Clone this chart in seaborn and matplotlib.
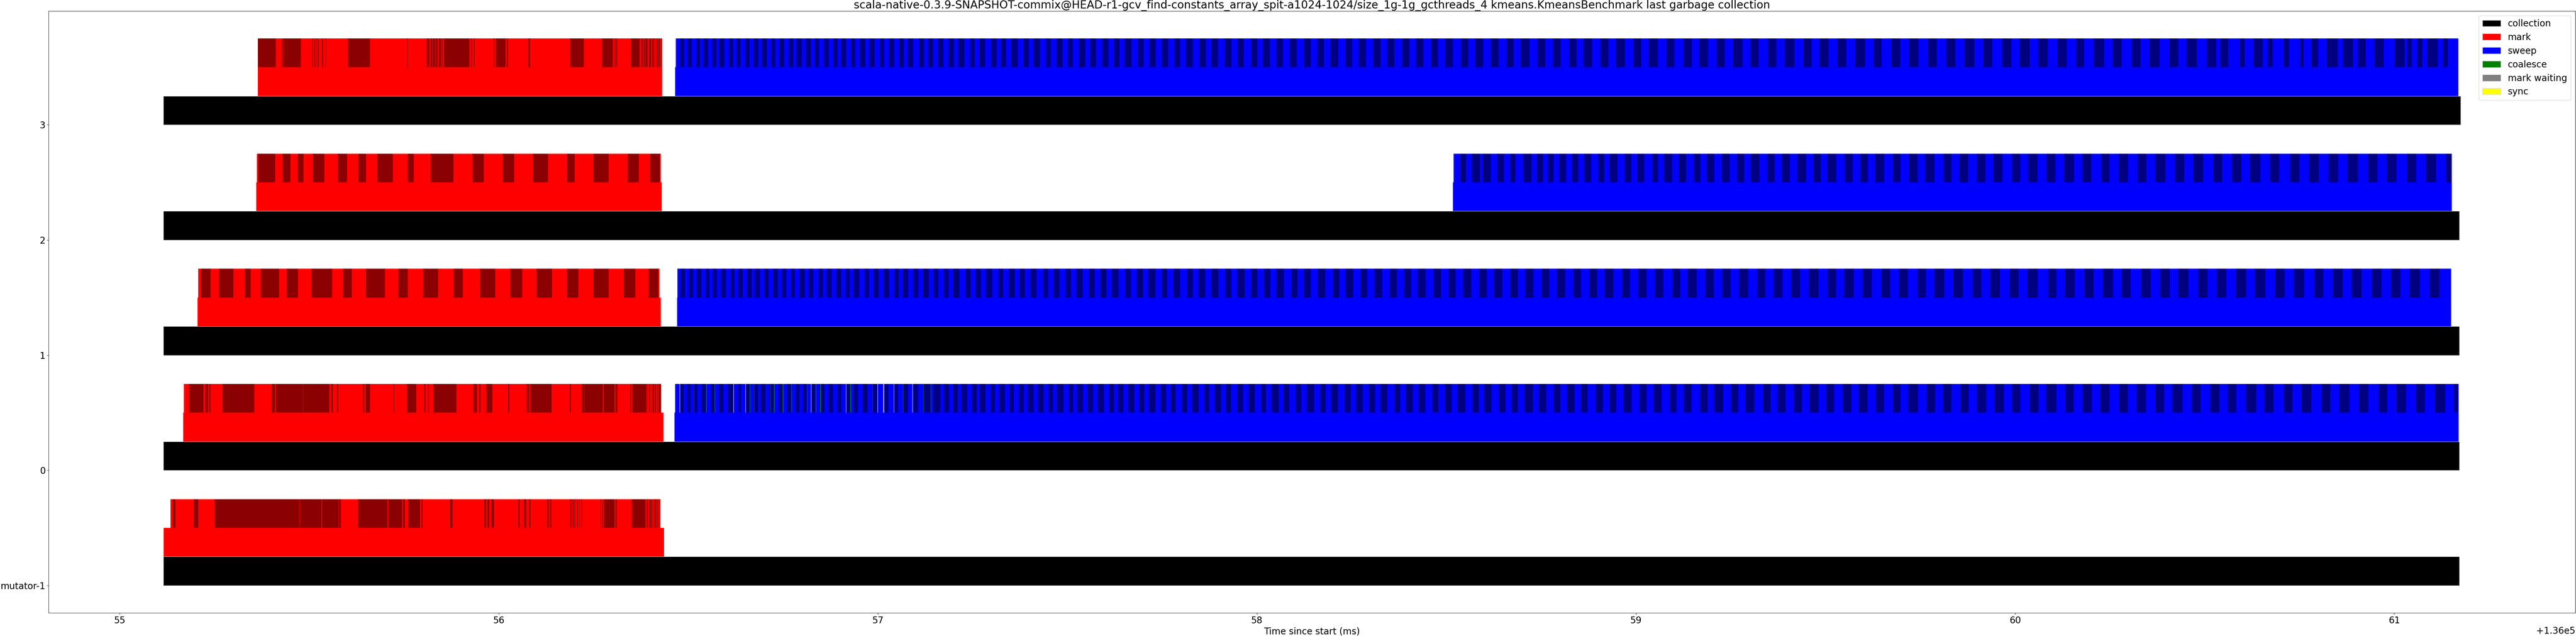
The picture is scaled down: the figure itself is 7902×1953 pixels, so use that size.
import matplotlib
matplotlib.use("Agg")
import matplotlib.pyplot as plt
import seaborn as sns
import pandas as pd
import numpy as np
from matplotlib.patches import Patch

OFFSET = 136000.0

# ---------------- data (ms, relative to OFFSET) ----------------
row_labels = ["mutator-1", "0", "1", "2", "3"]
row_pos = [-1, 0, 1, 2, 3]

collection_start = [55.115, 55.115, 55.115, 55.115, 55.115]
collection_end = [61.172, 61.172, 61.172, 61.172, 61.175]

mark_rows = [-1, 0, 1, 2, 3]
mark_start = [55.116, 55.167, 55.205, 55.360, 55.364]
mark_end = [56.4355, 56.434, 56.427, 56.430, 56.431]

# extent of the per-batch strip (top layer) during mark
mark_batch_start = [55.134, 55.169, 55.207, 55.362, 55.364]
mark_batch_end = [56.4265, 56.428, 56.424, 56.427, 56.431]

sweep_rows = [0, 1, 2, 3]
sweep_start = [56.4635, 56.470, 58.517, 56.465]
sweep_end = [61.170, 61.150, 61.152, 61.169]

# dark (alternate) mark batches per row
mark_dark_m1 = [(55.140, 55.147), (55.196, 55.207), (55.250, 55.474), (55.475, 55.532),
                (55.534, 55.577), (55.578, 55.584), (55.629, 55.706), (55.708, 55.744),
                (55.747, 55.752), (55.761, 55.792), (55.796, 55.799), (55.872, 55.878),
                (55.962, 55.966), (55.970, 55.975), (55.980, 55.987), (56.051, 56.055),
                (56.066, 56.072), (56.080, 56.083), (56.128, 56.131), (56.135, 56.138),
                (56.188, 56.190), (56.192, 56.194), (56.197, 56.199), (56.202, 56.204),
                (56.207, 56.209), (56.212, 56.214), (56.218, 56.220), (56.268, 56.270),
                (56.273, 56.275), (56.278, 56.305), (56.308, 56.311), (56.351, 56.387),
                (56.390, 56.393), (56.395, 56.397), (56.399, 56.401), (56.403, 56.405),
                (56.408, 56.410), (56.412, 56.414), (56.417, 56.419), (56.421, 56.423)]
mark_dark_0 = [(55.183, 55.221), (55.226, 55.233), (55.236, 55.240), (55.271, 55.355),
               (55.401, 55.409), (55.412, 55.483), (55.484, 55.553), (55.558, 55.562),
               (55.573, 55.576), (55.641, 55.645), (55.649, 55.660), (55.722, 55.724),
               (55.757, 55.782), (55.803, 55.806), (55.813, 55.816), (55.827, 55.888),
               (55.933, 55.942), (55.948, 55.952), (55.966, 55.983), (56.025, 56.027),
               (56.073, 56.076), (56.078, 56.081), (56.083, 56.139), (56.187, 56.190),
               (56.219, 56.225), (56.226, 56.274), (56.277, 56.305), (56.308, 56.313),
               (56.347, 56.349), (56.352, 56.389), (56.391, 56.393), (56.396, 56.398),
               (56.401, 56.403), (56.406, 56.409), (56.412, 56.414), (56.418, 56.420),
               (56.423, 56.427)]
mark_dark_1 = [(55.215, 55.240), (55.262, 55.300), (55.330, 55.345), (55.372, 55.420),
               (55.441, 55.470), (55.505, 55.560), (55.590, 55.612), (55.650, 55.700),
               (55.735, 55.760), (55.800, 55.840), (55.880, 55.905), (55.950, 55.990),
               (56.030, 56.062), (56.100, 56.140), (56.180, 56.210), (56.250, 56.290),
               (56.330, 56.360), (56.395, 56.420)]
mark_dark_2 = [(55.365, 55.410), (55.430, 55.450), (55.470, 55.485), (55.510, 55.540),
               (55.575, 55.600), (55.630, 55.650), (55.680, 55.720), (55.760, 55.775),
               (55.820, 55.880), (55.930, 55.960), (56.010, 56.040), (56.090, 56.130),
               (56.180, 56.200), (56.250, 56.290), (56.340, 56.370), (56.400, 56.425)]
mark_dark_3 = [(55.364, 55.412), (55.428, 55.430), (55.431, 55.478), (55.508, 55.510),
               (55.514, 55.516), (55.519, 55.521), (55.523, 55.525), (55.534, 55.536),
               (55.542, 55.544), (55.602, 55.660), (55.758, 55.760), (55.810, 55.817),
               (55.820, 55.824), (55.826, 55.831), (55.833, 55.838), (55.842, 55.847),
               (55.849, 55.852), (55.855, 55.859), (55.859, 55.922), (55.927, 55.929),
               (55.934, 55.936), (55.986, 55.989), (55.992, 56.018), (56.021, 56.024),
               (56.078, 56.082), (56.188, 56.224), (56.272, 56.301), (56.305, 56.308),
               (56.310, 56.312), (56.349, 56.371), (56.375, 56.377), (56.379, 56.381),
               (56.383, 56.385), (56.387, 56.392), (56.396, 56.398), (56.399, 56.401),
               (56.404, 56.406), (56.407, 56.409), (56.411, 56.413), (56.415, 56.417),
               (56.419, 56.421), (56.423, 56.425), (56.427, 56.430)]

# sweep batches: directly read dark batches (start, end)
sweep_dark_0_read = [(56.4775, 56.4875), (56.4965, 56.5055), (56.5135, 56.5235), (56.5355, 56.5465),
                     (56.5595, 56.5685), (56.5815, 56.5925), (56.6035, 56.6175), (56.6315, 56.6385),
                     (56.6505, 56.6615), (56.6725, 56.6835), (56.6915, 56.7035), (56.7145, 56.7255),
                     (56.7385, 56.7485), (56.7605, 56.7705), (56.7845, 56.7925), (56.8025, 56.8125),
                     (56.8235, 56.8355), (56.8475, 56.8585), (56.8705, 56.8815), (56.8945, 56.9035),
                     (56.9155, 56.9265), (56.9365, 56.9475), (56.9595, 56.9725), (56.9845, 56.9985),
                     (57.0145, 57.0275), (57.0415, 57.0535), (57.0665, 57.0795), (57.0915, 57.1055),
                     (57.1195, 57.1385), (57.1465, 57.1645)]
sweep_dark_2_read = [(58.5366, 58.5512), (58.567, 58.588), (58.596, 58.617), (58.634, 58.651),
                     (58.668, 58.681), (58.703, 58.724), (58.739, 58.754), (58.767, 58.783)]
sweep_dark_3_read = [(60.541, 60.562), (60.592, 60.605), (60.629, 60.653), (60.667, 60.679),
                     (60.708, 60.723), (60.751, 60.761), (60.782, 60.799), (60.822, 60.851),
                     (60.864, 60.891), (60.903, 60.925), (60.948, 60.972), (61.001, 61.027),
                     (61.035, 61.046), (61.061, 61.074), (61.087, 61.115), (61.129, 61.142)]

# sweep batches elsewhere: estimated durations in microseconds, alternating (light, dark)
sweep_0_rest_us = [9, 14, 11, 12, 10, 15, 12, 13, 9, 14, 13, 12, 11, 16, 12, 11, 14, 13, 10, 15,
                   12, 14, 13, 12, 11, 17, 14, 12, 10, 15, 13, 14, 12, 16, 15, 12, 11, 14, 13, 15,
                   14, 13, 12, 17, 15, 14, 13, 12, 16, 15, 12, 18, 14, 13, 15, 16, 13, 14, 17, 15,
                   14, 17, 16, 13, 15, 18, 13, 16, 17, 14, 15, 19, 16, 15, 14, 18, 18, 15, 15, 17,
                   17, 16, 14, 19, 18, 15, 16, 18, 15, 17, 19, 16, 17, 18, 16, 20, 18, 17, 15, 19,
                   19, 18, 17, 16, 18, 21, 16, 19, 20, 17, 18, 20, 17, 18, 21, 19, 18, 17, 19, 22,
                   20, 19, 18, 22, 21, 18, 19, 21, 22, 20, 18, 23, 21, 19, 20, 22, 23, 20, 19, 21,
                   22, 21, 20, 24, 21, 20, 23, 22, 19, 24, 22, 21, 24, 20, 21, 25, 23, 22, 20, 23,
                   24, 22, 21, 25, 23, 24, 22, 21, 25, 23, 21, 26, 24, 22, 23, 25, 22, 24, 26, 23,
                   23, 25, 25, 22, 22, 27, 24, 23, 26, 24, 23, 22, 25, 27, 22, 24, 27, 23, 24, 26,
                   26, 24, 23, 27, 25, 25, 28, 22, 24, 26, 27, 23, 25, 28, 23, 24]
sweep_1_us = [8, 11, 11, 10, 10, 12, 12, 9, 9, 11, 11, 13, 13, 10, 10, 11, 12, 12, 9, 13,
              12, 11, 11, 13, 10, 12, 13, 10, 12, 14, 11, 11, 14, 12, 10, 13, 13, 12, 12, 10,
              11, 15, 14, 12, 12, 13, 13, 14, 15, 11, 11, 14, 14, 13, 12, 15, 13, 12, 15, 13,
              12, 16, 16, 13, 14, 14, 13, 17, 15, 13, 16, 15, 13, 14, 14, 17, 17, 13, 15, 15,
              16, 14, 14, 17, 17, 15, 15, 16, 14, 18, 18, 14, 16, 16, 15, 18, 17, 15, 16, 17,
              18, 16, 15, 17, 17, 18, 19, 15, 16, 19, 17, 17, 18, 16, 16, 20, 19, 17, 17, 18,
              19, 19, 20, 17, 17, 20, 19, 18, 18, 21, 21, 18, 19, 19, 17, 21, 20, 20, 21, 18,
              20, 21, 22, 19, 19, 22, 21, 20, 20, 21, 23, 19, 19, 23, 22, 20, 21, 21, 20, 23,
              23, 21, 21, 23, 22, 22, 24, 20, 20, 24, 23, 22, 22, 23, 21, 25, 24, 21, 22, 23,
              24, 23, 23, 25, 25, 21, 22, 25, 24, 24, 26, 22, 23, 24, 25, 23, 22, 26, 24, 25,
              26, 23, 23, 26, 25, 24, 24, 27, 27, 22, 23, 25, 26, 24, 25, 26, 24, 23, 27, 25,
              25, 26, 22, 27, 27, 24, 24, 25, 26, 26, 23, 28,
              26, 25, 24, 27, 28, 23, 25, 26, 23, 27, 27, 25, 26, 24, 24, 28, 25, 26, 28, 24]
sweep_2_rest_us = [14, 18, 17, 15, 16, 19, 18, 16, 15, 20, 19, 17, 17, 18, 20, 16, 16, 21, 18, 19,
                   21, 17, 17, 20, 19, 21, 20, 18, 18, 22, 22, 19, 19, 20, 21, 22, 20, 19, 18, 23,
                   22, 21, 21, 20, 19, 24, 23, 20, 22, 22, 20, 25, 24, 21, 21, 23, 23, 22, 22, 24,
                   25, 21, 21, 25, 24, 23, 23, 26, 22, 24, 26, 22, 24, 25, 25, 23, 23, 27, 26, 24,
                   24, 26, 27, 23, 25, 25, 23, 28, 26, 24, 28, 25, 24, 27,
                   26, 25, 25, 27, 28, 24, 24, 26, 27, 25, 25, 28, 26, 24]
sweep_3_us = [12, 10, 9, 11, 12, 9, 10, 12, 11, 10, 9, 13, 12, 11, 10, 9, 13, 11, 11, 12,
              10, 13, 12, 10, 11, 12, 13, 11, 9, 14, 12, 12, 11, 10, 14, 12, 12, 11, 10, 13,
              13, 12, 11, 14, 12, 13, 14, 11, 12, 15, 13, 12, 11, 14, 15, 13, 12, 12, 13, 15,
              14, 13, 12, 16, 15, 12, 13, 15, 16, 14, 12, 13, 14, 17, 15, 14, 13, 16, 16, 13,
              15, 16, 14, 13, 16, 17, 13, 15, 17, 16, 15, 14, 14, 18, 17, 15, 16, 16, 15, 17,
              17, 15, 16, 18, 18, 16, 15, 17, 17, 19, 16, 16, 19, 17, 15, 18, 18, 17, 17, 19,
              19, 18, 17, 17, 18, 20, 20, 17, 17, 19, 19, 20, 18, 18, 21, 19, 17, 20, 20, 18,
              19, 21, 21, 19, 18, 22, 20, 20, 22, 18, 19, 23, 21, 20, 20, 21, 23, 19, 19, 22,
              22, 21, 20, 23, 23, 20, 21, 24, 22, 21, 24, 22, 20, 23, 23, 21, 22, 25, 21, 22,
              24, 22, 22, 25, 25, 21, 21, 24, 24, 23, 23, 26, 22, 22, 25, 24, 23, 25, 26, 22,
              25, 24, 23, 27, 24, 23, 26, 25, 22, 26,
              23, 25, 26, 24, 24, 22, 25, 27, 23, 24, 27, 23, 24, 26, 25, 24, 22, 27, 26, 25, 24, 23]

# thin idle gaps (white) in the sweep strip of row 0
sweep_gaps_0 = [56.477, 56.619, 56.651, 56.824, 56.916, 56.999, 57.015, 57.042, 57.091]

# coalesce events (very short) during sweep, row 0
coalesce_0 = [56.514, 56.547, 56.569, 56.662, 56.673, 56.716, 56.726, 56.749, 56.771,
              56.813, 56.836, 56.848, 56.927, 56.985, 57.066, 57.120, 57.139]

legend_labels = ["collection", "mark", "sweep", "coalesce", "mark waiting", "sync"]
legend_colors = ["black", "red", "blue", "green", "grey", "yellow"]

title = ("scala-native-0.3.9-SNAPSHOT-commix@HEAD-r1-gcv_find-constants_array_spit-a1024-1024/"
         "size_1g-1g_gcthreads_4 kmeans.KmeansBenchmark last garbage collection")


def dark_from_durations(t0, us_list, t_end):
    """Turn alternating (light, dark) batch durations in microseconds into dark segments."""
    segs = []
    t = t0
    for i in range(0, len(us_list) - 1, 2):
        t += us_list[i] / 1000.0
        s = t
        t += us_list[i + 1] / 1000.0
        if s >= t_end:
            break
        segs.append((s, min(t, t_end)))
    return segs


sweep_dark_0 = sweep_dark_0_read + dark_from_durations(57.1645, sweep_0_rest_us, 61.168)
sweep_dark_1 = dark_from_durations(56.472, sweep_1_us, 61.148)
sweep_dark_2 = sweep_dark_2_read + dark_from_durations(58.783, sweep_2_rest_us, 61.150)
sweep_dark_3 = dark_from_durations(56.467, sweep_3_us, 60.530) + sweep_dark_3_read

# ---------------- style ----------------
sns.set_theme(style="ticks")
plt.rcParams.update({
    "font.family": ["DejaVu Sans"],
    "font.size": 20,
    "axes.edgecolor": "black",
    "axes.linewidth": 0.8,
    "xtick.color": "black",
    "ytick.color": "black",
    "xtick.major.size": 3.5,
    "ytick.major.size": 3.5,
    "xtick.major.width": 0.8,
    "ytick.major.width": 0.8,
    "xtick.labelsize": 20,
    "ytick.labelsize": 20,
    "axes.labelsize": 20,
    "axes.titlesize": 24,
    "legend.fontsize": 20,
    "text.color": "black",
    "axes.labelcolor": "black",
})

fig, ax = plt.subplots(figsize=(79.02, 19.53), dpi=100)
fig.subplots_adjust(left=0.0189, right=0.9997, top=0.9826, bottom=0.0364)

BAR_H = 0.25

# collection bars (bottom layer)
coll_df = pd.DataFrame({
    "pos": np.array(row_pos, dtype=float) + BAR_H / 2,
    "dur": np.array(collection_end) - np.array(collection_start),
    "left": np.array(collection_start) + OFFSET,
}).sort_values("pos")
sns.barplot(data=coll_df, x="dur", y="pos", orient="y", native_scale=True,
            width=BAR_H, left=coll_df["left"].to_numpy(), color="black",
            saturation=1, errorbar=None, edgecolor="lightgrey", linewidth=0.8, ax=ax)

# mark bars (middle layer)
mark_df = pd.DataFrame({
    "pos": np.array(mark_rows, dtype=float) + 1.5 * BAR_H,
    "dur": np.array(mark_end) - np.array(mark_start),
    "left": np.array(mark_start) + OFFSET,
}).sort_values("pos")
sns.barplot(data=mark_df, x="dur", y="pos", orient="y", native_scale=True,
            width=BAR_H, left=mark_df["left"].to_numpy(), color="red",
            saturation=1, errorbar=None, linewidth=0, ax=ax)

# sweep bars (middle layer)
sweep_df = pd.DataFrame({
    "pos": np.array(sweep_rows, dtype=float) + 1.5 * BAR_H,
    "dur": np.array(sweep_end) - np.array(sweep_start),
    "left": np.array(sweep_start) + OFFSET,
}).sort_values("pos")
sns.barplot(data=sweep_df, x="dur", y="pos", orient="y", native_scale=True,
            width=BAR_H, left=sweep_df["left"].to_numpy(), color="blue",
            saturation=1, errorbar=None, linewidth=0, ax=ax)


# per-batch strips (top layer)
def strip(row, segs, color):
    if len(segs) == 0:
        return
    ax.broken_barh([(s + OFFSET, e - s) for s, e in segs], (row + 2 * BAR_H, BAR_H),
                   facecolors=color, linewidth=0)


for r, s, e in zip(mark_rows, mark_batch_start, mark_batch_end):
    strip(r, [(s, e)], "red")
for r, s, e in zip(sweep_rows, sweep_start, sweep_end):
    strip(r, [(s + 0.0015, e)], "blue")

for r, segs in zip(mark_rows, [mark_dark_m1, mark_dark_0, mark_dark_1, mark_dark_2, mark_dark_3]):
    strip(r, segs, "darkred")
for r, segs in zip(sweep_rows, [sweep_dark_0, sweep_dark_1, sweep_dark_2, sweep_dark_3]):
    strip(r, segs, "navy")
strip(0, [(t, t + 0.0009) for t in sweep_gaps_0], "white")
strip(0, [(t, t + 0.0012) for t in coalesce_0], "green")

# axes
ax.set_xlim(54.8125 + OFFSET, 61.4775 + OFFSET)
ax.set_ylim(-1.2375, 3.9875)
ax.set_xticks([OFFSET + v for v in range(55, 62)])
ax.set_yticks(row_pos)
ax.set_yticklabels(row_labels)
ax.set_xlabel("Time since start (ms)")
ax.set_ylabel("")
ax.set_title(title, pad=6)

handles = [Patch(facecolor=c, edgecolor="lightgrey", linewidth=0.8, label=l)
           for l, c in zip(legend_labels, legend_colors)]
ax.legend(handles=handles, loc="upper right")

fig.savefig("out.png", dpi=100)
